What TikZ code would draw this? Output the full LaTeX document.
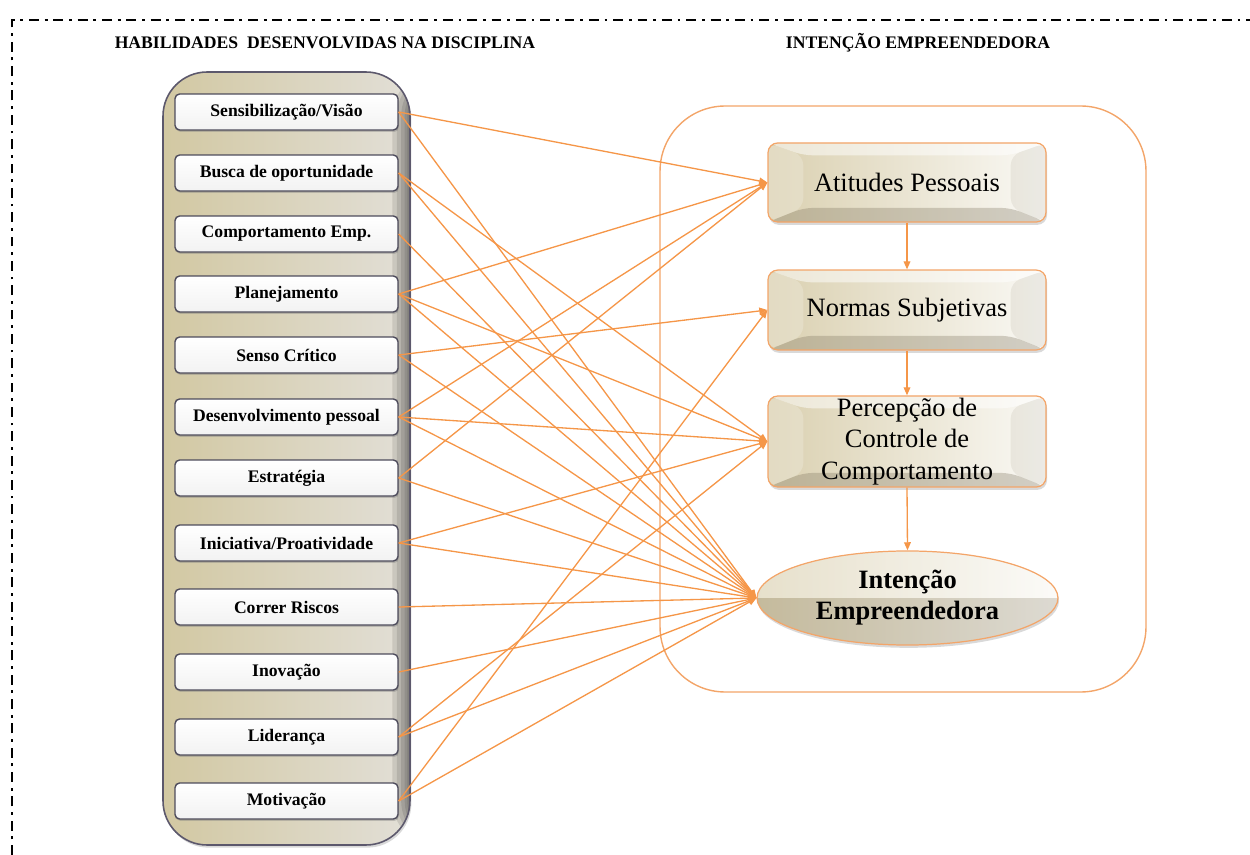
\documentclass[tikz,border=0pt]{standalone}
\usepackage{fontspec}
\setmainfont{Liberation Serif}
\usetikzlibrary{arrows.meta,shapes.geometric,shadows,calc}

\definecolor{linkorange}{RGB}{245,150,72}
\definecolor{frameorange}{RGB}{243,165,105}
\definecolor{itemedge}{RGB}{78,76,92}
\definecolor{skilledge}{RGB}{92,88,108}
\definecolor{skilltan}{RGB}{210,200,162}
\definecolor{skillmid}{RGB}{236,233,222}
\definecolor{skilllight}{RGB}{226,223,215}
\definecolor{bevtan}{RGB}{218,208,176}
\definecolor{bevlight}{RGB}{250,249,245}
\definecolor{bevdark}{RGB}{120,110,88}

\tikzset{
  link/.style={draw=linkorange, line width=0.75pt,
    -{Triangle[length=4.6pt,width=3.8pt]}},
  itembox/.style={draw=itemedge, line width=0.8pt, rounded corners=2.6pt,
    minimum width=126.4pt, minimum height=20.4pt, inner sep=0pt,
    top color=white, bottom color=black!5,
    font=\bfseries\fontsize{10}{12}\selectfont,
    drop shadow={opacity=0.4, shadow xshift=0.5pt, shadow yshift=-1.1pt}},
  headline/.style={font=\bfseries\fontsize{10}{12}\selectfont},
  bevelbox/.style={rounded corners=5.5pt, draw=frameorange, line width=0.7pt,
    minimum width=157.6pt, inner sep=0pt, align=center,
    font=\fontsize{15}{18}\selectfont,
    left color=bevtan, right color=bevlight,
    drop shadow={opacity=0.3, shadow xshift=0.6pt, shadow yshift=-1.6pt},
    path picture={
      % upper bevel, lit
      \fill[white, opacity=0.5]
        (path picture bounding box.north west) -- (path picture bounding box.north east)
        -- ($(path picture bounding box.north east)+(-20pt,-7pt)$)
        -- ($(path picture bounding box.north west)+(20pt,-7pt)$) -- cycle;
      % left bevel
      \fill[bevtan!60!white, opacity=0.6]
        (path picture bounding box.north west)
        -- ($(path picture bounding box.north west)+(20pt,-7pt)$)
        -- ($(path picture bounding box.south west)+(20pt,8pt)$)
        -- (path picture bounding box.south west) -- cycle;
      % right bevel, shaded
      \fill[bevdark, opacity=0.1]
        (path picture bounding box.north east)
        -- ($(path picture bounding box.north east)+(-20pt,-7pt)$)
        -- ($(path picture bounding box.south east)+(-20pt,8pt)$)
        -- (path picture bounding box.south east) -- cycle;
      % lower bevel, dark
      \fill[bevdark, opacity=0.3]
        (path picture bounding box.south west) -- (path picture bounding box.south east)
        -- ($(path picture bounding box.south east)+(-20pt,8pt)$)
        -- ($(path picture bounding box.south west)+(20pt,8pt)$) -- cycle;
    }},
  lensbox/.style={ellipse, draw=frameorange, line width=0.7pt,
    minimum width=170.6pt, minimum height=53.3pt, inner sep=0pt, align=center,
    font=\bfseries\fontsize{15}{17.5}\selectfont,
    left color=bevtan, right color=bevlight,
    drop shadow={opacity=0.3, shadow xshift=0.6pt, shadow yshift=-1.6pt},
    path picture={
      \fill[bevdark, opacity=0.22]
        (path picture bounding box.west) rectangle (path picture bounding box.south east);
      \fill[white, opacity=0.35]
        (path picture bounding box.north west) rectangle (path picture bounding box.east);
    }},
}

\begin{document}
\begin{tikzpicture}[x=0.5669pt, y=-0.5669pt]
\useasboundingbox (0,0) rectangle (1250,855);

% dash-dot page frame
\draw[line width=1.1pt, dash pattern=on 5.6pt off 3.3pt on 1.6pt off 3.3pt]
  (12,855) -- (12,20) -- (1250,20);

% headings
\node[headline] (hskills) at (325,43) {HABILIDADES\ \ DESENVOLVIDAS NA DISCIPLINA};
\node[headline] (hintent) at (918,43) {INTENÇÃO EMPREENDEDORA};

% column of skills, darkening in steps towards its right edge
\node[draw=skilledge, line width=0.9pt, rounded corners=25pt,
  minimum width=140pt, minimum height=438.2pt,
  left color=skilltan, middle color=skillmid, right color=skilllight,
  drop shadow={opacity=0.3, shadow xshift=0.8pt, shadow yshift=-1.5pt},
  path picture={
    \foreach \w in {10,7.5,5,3,1.5}
      \fill[black, opacity=0.1]
        ($(path picture bounding box.north east)+(-\w pt,0)$) rectangle (path picture bounding box.south east);
  }] (skills) at (286.5,458.5) {};

\node[itembox] (s1)  at (286.5,112) {Sensibilização/Visão};
\node[itembox] (s2)  at (286.5,173) {Busca de oportunidade};
\node[itembox] (s3)  at (286.5,234) {Comportamento Emp.};
\node[itembox] (s4)  at (286.5,294) {Planejamento};
\node[itembox] (s5)  at (286.5,355) {Senso Crítico};
\node[itembox] (s6)  at (286.5,417) {Desenvolvimento pessoal};
\node[itembox] (s7)  at (286.5,478) {Estratégia};
\node[itembox] (s8)  at (286.5,543) {Iniciativa/Proatividade};
\node[itembox] (s9)  at (286.5,607) {Correr Riscos};
\node[itembox] (s10) at (286.5,672) {Inovação};
\node[itembox] (s11) at (286.5,737) {Liderança};
\node[itembox] (s12) at (286.5,801) {Motivação};

% intention model
\node[draw=frameorange, line width=0.8pt, rounded corners=37pt,
  minimum width=275.5pt, minimum height=332.2pt] (model) at (903,399) {};

\node[bevelbox, minimum height=44.8pt] (ap) at (907,182.5) {Atitudes Pessoais};
\node[bevelbox, minimum height=45.3pt] (ns) at (907,310) {Normas Subjetivas};
\node[bevelbox, minimum height=51.6pt] (pc) at (907,441.5) {Percepção de\\Controle de\\Comportamento};
\node[lensbox] (ie) at (907.5,598) {Intenção\\Empreendedora};

\draw[link] (ap.south) -- (ns.north);
\draw[link] (ns.south) -- (pc.north);
\draw[link] (pc.south) -- (ie.north);

% links from skills to the model
\foreach \s/\t in {s1/ap, s4/ap, s6/ap, s7/ap,
                   s5/ns, s12/ns,
                   s2/pc, s4/pc, s6/pc, s8/pc, s11/pc,
                   s1/ie, s2/ie, s3/ie, s4/ie, s5/ie, s6/ie,
                   s7/ie, s8/ie, s9/ie, s10/ie, s11/ie, s12/ie}
  \draw[link] (\s.east) -- (\t.west);
\end{tikzpicture}
\end{document}
